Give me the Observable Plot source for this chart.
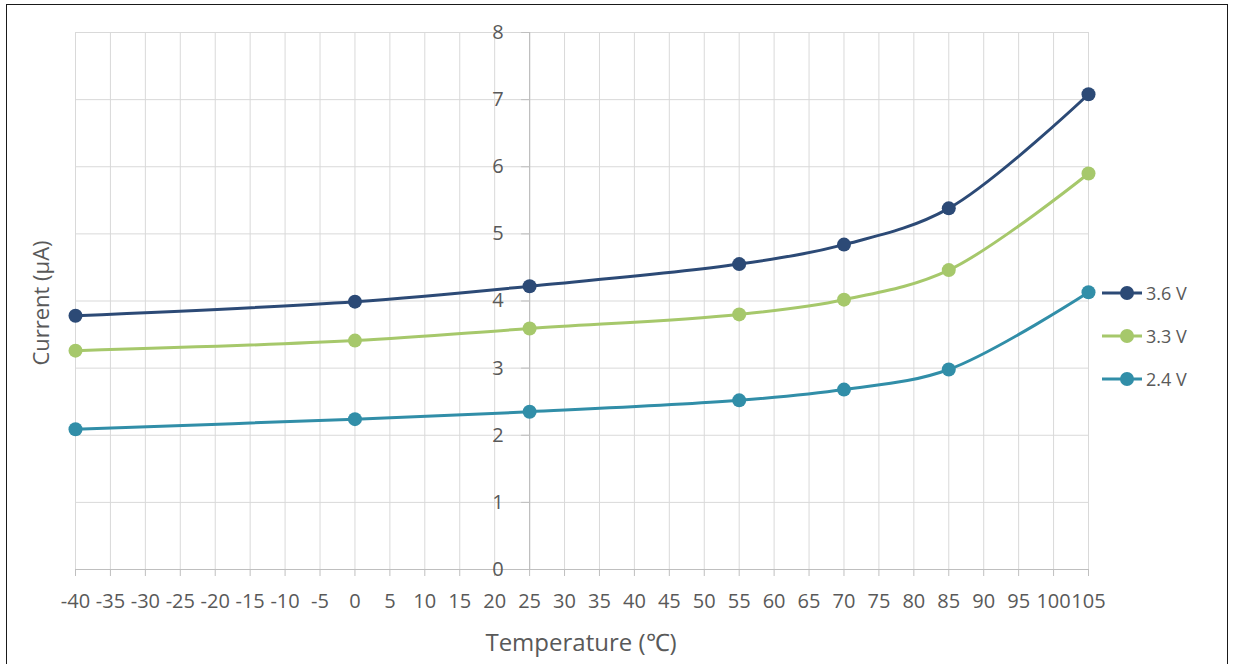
<!DOCTYPE html>
<html><head><meta charset="utf-8">
<script src="https://cdn.jsdelivr.net/npm/d3@7"></script>
<script src="https://cdn.jsdelivr.net/npm/@observablehq/plot@0.6"></script>
<style>
body{margin:0;background:#fff;font-family:"Open Sans",sans-serif;}
#wrap{position:relative;width:1235px;height:664px;overflow:hidden;background:#fff;}
#frame{position:absolute;left:6px;top:4px;width:1222px;height:700px;border:1.5px solid #1a1a1a;box-sizing:border-box;}
#chart{position:absolute;left:0;top:0;}
.xt{position:absolute;left:581px;top:642px;transform:translate(-50%,-50%);font-size:24px;color:#595959;white-space:nowrap;line-height:1;}
.yt{position:absolute;left:40px;top:303px;transform:translate(-50%,-50%) rotate(-90deg);font-size:22px;color:#595959;white-space:nowrap;line-height:1;}
#legend{position:absolute;left:1102px;top:271px;}
.li{display:flex;align-items:center;height:43px;font-size:18px;color:#595959;}
.li svg{margin-right:2px;}
</style></head>
<body>
<div id="wrap">
  <div id="chart"></div>
  <div class="xt">Temperature (℃)</div>
  <div class="yt">Current (μA)</div>
  <div id="legend"></div>
  <div id="frame"></div>
</div>
<script>
const temperatures = [-40, 0, 25, 55, 70, 85, 105];
const series = ["3.6 V", "3.3 V", "2.4 V"];
const current36 = [3.78, 3.99, 4.22, 4.55, 4.84, 5.38, 7.08];
const current33 = [3.26, 3.41, 3.59, 3.80, 4.02, 4.46, 5.90];
const current24 = [2.09, 2.24, 2.35, 2.52, 2.68, 2.98, 4.13];
const colors = ["#2c4a76", "#a6c86b", "#318ea8"];
const xTicks = d3.range(-40, 106, 5);
const yTicks = [0, 1, 2, 3, 4, 5, 6, 7, 8];
const yAxisAt = 25;

const values = [current36, current33, current24];
const data = [];
series.forEach((s, i) => temperatures.forEach((t, j) => data.push({series: s, t, v: values[i][j]})));

const plot = Plot.plot({
  width: 1235, height: 664,
  marginLeft: 75, marginRight: 147, marginTop: 32, marginBottom: 95,
  style: {fontFamily: "'Open Sans', sans-serif", background: "transparent", overflow: "visible"},
  x: {domain: [-40, 105], ticks: xTicks},
  y: {domain: [0, 8], ticks: yTicks},
  color: {domain: series, range: colors},
  marks: [
    Plot.gridX(xTicks, {stroke: "#d9d9d9", strokeOpacity: 1, strokeWidth: 1}),
    Plot.gridY(yTicks, {stroke: "#d9d9d9", strokeOpacity: 1, strokeWidth: 1}),
    Plot.ruleY([0], {stroke: "#bfbfbf", strokeWidth: 1.2}),
    Plot.ruleX([yAxisAt], {stroke: "#bfbfbf", strokeWidth: 1.2}),
    Plot.axisX(xTicks, {tickSize: 7, tickPadding: 17, stroke: "#bfbfbf", fill: "#595959", fontSize: 20, label: null, tickFormat: d => String(d)}),
    Plot.axisY(yTicks, {x: yAxisAt, tickSize: 8, tickPadding: 18, stroke: "#bfbfbf", fill: "#595959", fontSize: 20, label: null, tickFormat: d => String(d)}),
    Plot.line(data, {x: "t", y: "v", z: "series", stroke: "series", strokeWidth: 3, curve: "catmull-rom"}),
    Plot.dot(data, {x: "t", y: "v", fill: "series", r: 7, stroke: null})
  ]
});
document.getElementById("chart").appendChild(plot);

const legend = document.getElementById("legend");
series.forEach((s, i) => {
  const row = document.createElement("div");
  row.className = "li";
  row.innerHTML = `<svg width="42" height="16"><line x1="0" y1="8" x2="40" y2="8" stroke="${colors[i]}" stroke-width="3"/><circle cx="25" cy="8" r="7" fill="${colors[i]}"/></svg><span>${s}</span>`;
  legend.appendChild(row);
});
</script>
</body></html>
